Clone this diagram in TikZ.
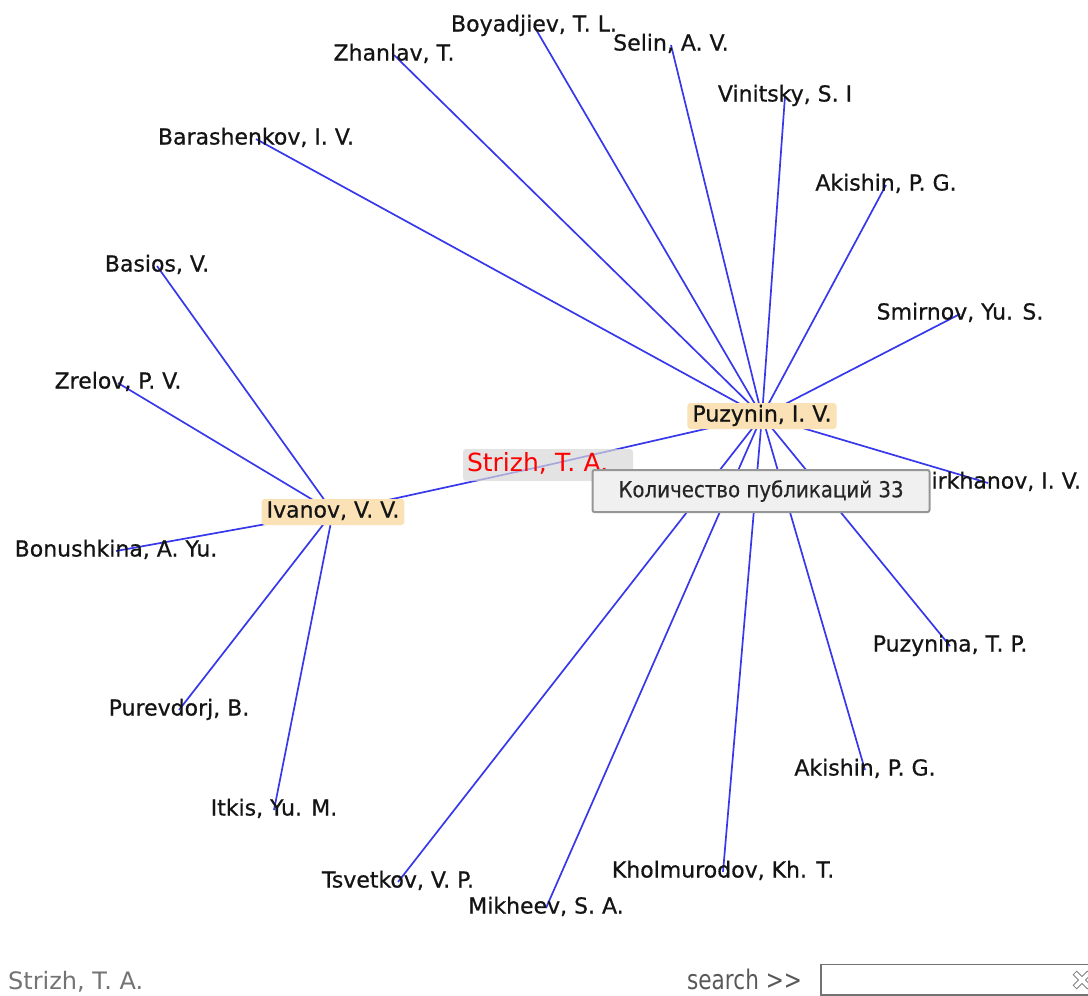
\documentclass[tikz,border=0pt]{standalone}
\usepackage{fontspec}
\setmainfont{DejaVu Sans}
\newfontfamily\narrowfont[FakeStretch=0.8]{DejaVu Sans}
\newfontfamily\labelfont[FakeBold=0.7]{DejaVu Sans}
\newfontfamily\tipfont[FakeStretch=0.9,FakeBold=0.3]{DejaVu Sans}
\usepackage{tikz}
\usetikzlibrary{backgrounds}
\definecolor{edgeblue}{RGB}{55,55,235}
\definecolor{hubpeach}{RGB}{250,226,182}
\definecolor{selgray}{RGB}{215,215,215}
\definecolor{tipgray}{RGB}{240,240,240}
\definecolor{tipline}{RGB}{150,150,150}
\tikzset{edge it/.style={edgeblue, line width=1.7},
  leaf/.style={inner sep=0, text=black!92, font=\labelfont\fontsize{22}{26}\selectfont, text height=16pt, text depth=5pt},
  hub/.style={leaf, fill=hubpeach, rounded corners=3, inner xsep=5, inner ysep=2.5}}

\begin{document}
\begin{tikzpicture}[x=1pt, y=-1pt]
\useasboundingbox (0,0) rectangle (1088,996);
% authors round Puzynin
\node[leaf] (boy) at (534,26) {Boyadjiev, T. L.};
\node[leaf] (sel) at (671,45) {Selin, A. V.};
\node[leaf] (zha) at (394,55) {Zhanlav, T.};
\node[leaf] (vin) at (785,96) {Vinitsky, S. I};
\node[leaf] (bar) at (256,139) {Barashenkov, I. V.};
\node[leaf] (akt) at (886,185) {Akishin, P. G.};
\node[leaf] (smi) at (960,314) {Smirnov, Yu. S.};
\node[leaf] (ami) at (988,483) {Amirkhanov, I. V.};
\node[leaf] (pzn) at (950,646) {Puzynina, T. P.};
\node[leaf] (akb) at (865,770) {Akishin, P. G.};
\node[leaf] (kho) at (723,872) {Kholmurodov, Kh. T.};
\node[leaf] (mik) at (546,908) {Mikheev, S. A.};
\node[leaf] (tsv) at (398,882) {Tsvetkov, V. P.};
% authors round Ivanov
\node[leaf] (bas) at (157,266) {Basios, V.};
\node[leaf] (zre) at (118,383) {Zrelov, P. V.};
\node[leaf] (bon) at (116,551) {Bonushkina, A. Yu.};
\node[leaf] (pur) at (179,710) {Purevdorj, B.};
\node[leaf] (itk) at (274,810) {Itkis, Yu. M.};
% hubs
\node[hub] (puz) at (762,416) {Puzynin, I. V.};
\node[hub] (iva) at (333,512) {Ivanov, V. V.};
\node[fill=selgray, fill opacity=0.7, text opacity=1, rounded corners=3, text=red,
  font=\fontsize{25}{28}\selectfont, text height=18pt, text depth=6pt,
  inner xsep=4, inner ysep=4, text width=162pt, align=left] (str) at (548,465) {Strizh, T. A.};
\begin{pgfonlayer}{background}
\draw [edge it] (iva.center) -- (str.center);
\draw [edge it] (str.center) -- (puz.center);
\draw [edge it] (puz.center) -- (boy.center);
\draw [edge it] (puz.center) -- (sel.center);
\draw [edge it] (puz.center) -- (zha.center);
\draw [edge it] (puz.center) -- (vin.center);
\draw [edge it] (puz.center) -- (bar.center);
\draw [edge it] (puz.center) -- (akt.center);
\draw [edge it] (puz.center) -- (smi.center);
\draw [edge it] (puz.center) -- (ami.center);
\draw [edge it] (puz.center) -- (pzn.center);
\draw [edge it] (puz.center) -- (akb.center);
\draw [edge it] (puz.center) -- (kho.center);
\draw [edge it] (puz.center) -- (mik.center);
\draw [edge it] (puz.center) -- (tsv.center);
\draw [edge it] (iva.center) -- (bas.center);
\draw [edge it] (iva.center) -- (zre.center);
\draw [edge it] (iva.center) -- (bon.center);
\draw [edge it] (iva.center) -- (pur.center);
\draw [edge it] (iva.center) -- (itk.center);
\end{pgfonlayer}
% tooltip
\node[draw=tipline, line width=2, fill=tipgray, rounded corners=2, minimum width=337, minimum height=42,
  text=black!85, font=\tipfont\fontsize{22}{25}\selectfont] (tip) at (761,491) {Количество публикаций 33};
% bottom bar
\node[anchor=base west, inner sep=0, text=black!55, font=\fontsize{24}{28}\selectfont] (cur) at (8,989) {Strizh, T. A.};
\node[anchor=base west, inner sep=0, text=black!65, font=\narrowfont\fontsize{27}{30}\selectfont] (srch) at (687,989) {search >>};
\draw[black!55, line width=1.5] (1095,964.5) -- (821,964.5) -- (821,995) -- (1095,995);
\draw[black!50, line width=0.8, rotate around={45:(1082,980)}]
  (1084.5,982.5) -- (1084.5,990) -- (1079.5,990) -- (1079.5,982.5) -- (1072,982.5) -- (1072,977.5)
  -- (1079.5,977.5) -- (1079.5,970) -- (1084.5,970) -- (1084.5,977.5) -- (1092,977.5) -- (1092,982.5) -- cycle;
\end{tikzpicture}
\end{document}
